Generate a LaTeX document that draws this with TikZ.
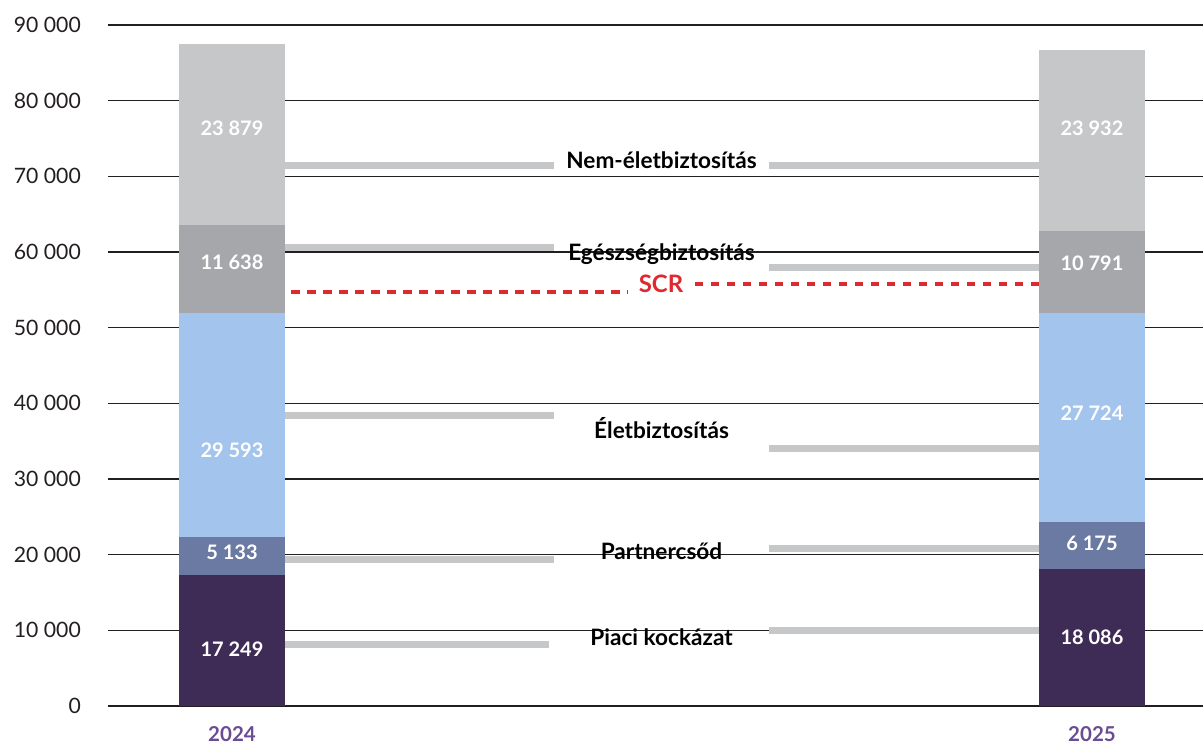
\documentclass[tikz,border=0pt]{standalone}
\usepackage{fontspec}
\setmainfont{Lato}
\usetikzlibrary{positioning}
\definecolor{gridblack}{HTML}{231F20}
\definecolor{nemgrey}{HTML}{C6C7C9}
\definecolor{egeszgrey}{HTML}{A6A7AB}
\definecolor{eletblue}{HTML}{A3C4EC}
\definecolor{partnerblue}{HTML}{6B7AA3}
\definecolor{piacipurple}{HTML}{3E2B56}
\definecolor{yearpurple}{HTML}{6A4C93}
\definecolor{scrred}{HTML}{E0282E}
\begin{document}
\begin{tikzpicture}[x=1pt, y=7.5667pt]
\tikzset{
    gridline/.style={draw=gridblack, line width=1.2pt},
    axislabel/.style={anchor=east, text=gridblack, font=\fontsize{21.2}{22}\selectfont, inner sep=0pt},
    value/.style={text=white, font=\bfseries\fontsize{20}{21}\selectfont, anchor=mid, inner sep=0pt},
    risk/.style={font=\bfseries\fontsize{22.6}{23}\selectfont, minimum width=215pt, inner sep=0pt, anchor=mid},
    leader/.style={draw=nemgrey, line width=7pt},
    scrline/.style={draw=scrred, line width=4.5pt, dash pattern=on 8.5pt off 7.5pt},
    year/.style={text=yearpurple, font=\bfseries\fontsize{20.5}{21}\selectfont, anchor=mid},
}
\useasboundingbox (0,-5.68) rectangle (1203,93.3);
\def\Bar(#1,#2,#3,#4){\fill[#4] (#1,#2) rectangle (#1+106,#3);}

% Draw the grid lines first, behind the bars.
\foreach \v/\t in {0/0, 10/10 000, 20/20 000, 30/30 000, 40/40 000,
                   50/50 000, 60/60 000, 70/70 000, 80/80 000, 90/90 000} {
  \draw[gridline] (108,\v) -- (1203,\v);
  \node[axislabel] (y\v) at (81,\v) {\t};
}

% SCR line and its label, also behind the bars.
\node[text=scrred, font=\bfseries\fontsize{24}{25}\selectfont, inner xsep=11pt, inner ysep=0pt, anchor=mid] (scr) at (661,54.98) {SCR};
\coordinate (scr24) at (179,54.71); % left bar edge
\coordinate (scr25) at (1039,55.77); % right bar edge
\draw[scrline] (scr24) -- (scr24 -| scr.west);
\draw[scrline] (scr25) -- (scr25 -| scr.east);

% Stacked bars, 2024 left and 2025 right.
\Bar(179,0,17.249,piacipurple)
\Bar(179,17.249,22.382,partnerblue)
\Bar(179,22.382,51.975,eletblue)
\Bar(179,51.975,63.613,egeszgrey)
\Bar(179,63.613,87.492,nemgrey)
\Bar(1039,0,18.086,piacipurple)
\Bar(1039,18.086,24.261,partnerblue)
\Bar(1039,24.261,51.985,eletblue)
\Bar(1039,51.985,62.776,egeszgrey)
\Bar(1039,62.776,86.708,nemgrey)

% Values inside the bars.
\node[value] (nem24)  at (232,75.73) {23 879};
\node[value] (eg24)   at (232,58.02) {11 638};
\node[value] (el24)   at (232,33.17) {29 593};
\node[value] (par24)  at (232,19.69) {5 133};
\node[value] (pia24)  at (232,6.87)  {17 249};
\node[value] (nem25)  at (1092,75.73) {23 932};
\node[value] (eg25)   at (1092,57.89) {10 791};
\node[value] (el25)   at (1092,38.06) {27 724};
\node[value] (par25)  at (1092,20.88) {6 175};
\node[value] (pia25)  at (1092,8.46)  {18 086};

% Risk names in the middle.
\node[risk] (nem) at (661.5,71.37) {Nem-életbiztosítás};
\node[risk] (eg)  at (661.5,59.21) {Egészségbiztosítás};
\node[risk] (el)  at (661.5,35.68) {Életbiztosítás};
\node[risk] (par) at (661.5,19.69) {Partnercsőd};
\node[risk] (pia) at (661.5,8.33)  {Piaci kockázat};

% Leader lines from the bar edges to the names.
\coordinate (nemL) at (285,71.37);  \coordinate (nemR) at (1039,71.37);
\coordinate (egL)  at (285,60.59);  \coordinate (egR)  at (1039,57.89);
\coordinate (elL)  at (285,38.33);  \coordinate (elR)  at (1039,33.96);
\coordinate (parL) at (285,19.30);  \coordinate (parR) at (1039,20.75);
\coordinate (piaL) at (285,8.06);   \coordinate (piaR) at (1039,9.91);
\foreach \n in {nem,eg,el,par} {
  \draw[leader] (\n L) -- (\n L -| \n.west);
  \draw[leader] (\n R) -- (\n R -| \n.east);
}
\draw[leader] (piaL) -- ([xshift=-5pt]piaL -| pia.west);
\draw[leader] (piaR) -- (piaR -| pia.east);

% Years below the bars.
\node[year] (y2024) at (232,-4.36) {2024};
\node[year] (y2025) at (1092,-4.36) {2025};
\end{tikzpicture}
\end{document}
